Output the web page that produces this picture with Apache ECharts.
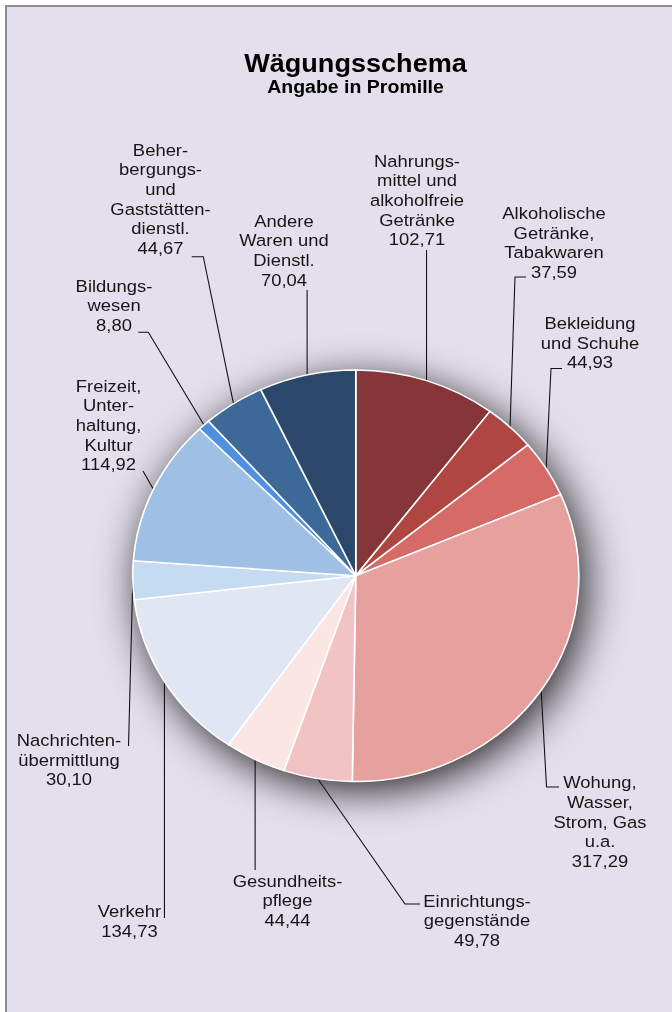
<!DOCTYPE html>
<html>
<head>
<meta charset="utf-8">
<script src="https://cdn.jsdelivr.net/npm/echarts@6/dist/echarts.min.js"></script>
<style>
  html, body { margin: 0; padding: 0; background: #fff; }
  body { width: 672px; height: 1012px; position: relative; overflow: hidden; }
  /* Rahmen mit grauer Kante links und oben */
  #frame {
    position: absolute; left: 5px; top: 5px; right: 0; bottom: 0;
    background: #e4dfec;
    border-left: 2px solid #8c8c8c;
    border-top: 2px solid #8c8c8c;
  }
  /* Vorlage ist horizontal gestreckt, daher scaleX */
  #chart {
    position: absolute; left: 0; top: 0;
    width: 620px; height: 1012px;
    transform: scaleX(1.083871);
    transform-origin: 0 0;
  }
</style>
</head>
<body>
<div id="frame"></div>
<div id="chart"></div>
<script>
  const categories = [
    'Nahrungs-\nmittel und\nalkoholfreie\nGetränke',
    'Alkoholische\nGetränke,\nTabakwaren',
    'Bekleidung\nund Schuhe',
    'Wohung,\nWasser,\nStrom, Gas\nu.a.',
    'Einrichtungs-\ngegenstände',
    'Gesundheits-\npflege',
    'Verkehr',
    'Nachrichten-\nübermittlung',
    'Freizeit,\nUnter-\nhaltung,\nKultur',
    'Bildungs-\nwesen',
    'Beher-\nbergungs-\nund\nGaststätten-\ndienstl.',
    'Andere\nWaren und\nDienstl.',
  ];
  const values = [102.71, 37.59, 44.93, 317.29, 49.78, 44.44, 134.73, 30.10, 114.92, 8.80, 44.67, 70.04];

  const sliceColors = [
    '#863538', '#b04642', '#d66a66', '#e6a09e', '#f2c3c3', '#fce6e4',
    '#e0e7f2', '#c5dbf2', '#9fbfe5', '#4f90e0', '#3d6999', '#2b486b',
  ];

  const SX = 672 / 620;          // horizontale Streckung
  const FONT = "'Liberation Sans', Arial, sans-serif";
  const LABEL_SIZE = 17;
  const LINE_H = 19.7;
  const BASE_OFFSET = LINE_H / 2 + 0.3465 * LABEL_SIZE;
  const CENTER = [355.8 / SX, 575.8];
  const RADIUS = 205.8;

  // Lage der Beschriftungen in Bildpixeln: Mitte, erste Grundlinie, Führungslinie
  const labelSpots = [
    { x: 417, base: 166.7, end: [null, 250] },
    { x: 554, base: 219, elbow: [515, 277], end: [526, 277] },
    { x: 590, base: 329, elbow: [551, 368.5], end: [562, 368.5] },
    { x: 600, base: 788.3, elbow: [546.5, 787], end: [559, 787] },
    { x: 477, base: 906.7, elbow: [405, 904], end: [420, 904] },
    { x: 287.5, base: 886.7, end: [null, 870] },
    { x: 129.5, base: 917.3, end: [null, 918] },
    { x: 69, base: 746, end: [128.5, 746] },
    { x: 108.5, base: 391.7, end: [143, 471] },
    { x: 114, base: 291.7, elbow: [148.3, 332.3], end: [138.3, 332.3] },
    { x: 160.5, base: 155.7, elbow: [203.3, 256.7], end: [191.7, 256.7] },
    { x: 284, base: 226.7, end: [null, 290] },
  ];

  const fmt = (v) => v.toFixed(2).replace('.', ',');
  const total = values.reduce((a, b) => a + b, 0);

  const chart = echarts.init(document.getElementById('chart'), null, { renderer: 'svg' });

  chart.setOption({
    animation: false,
    backgroundColor: 'transparent',
    title: {
      text: 'Wägungsschema',
      subtext: 'Angabe in Promille',
      left: 355.5 / SX,
      top: 51,
      padding: 0,
      itemGap: 2,
      textAlign: 'center',
      textStyle: { fontFamily: FONT, fontSize: 25, fontWeight: 'bold', color: '#000', lineHeight: 25 },
      subtextStyle: { fontFamily: FONT, fontSize: 18, fontWeight: 'bold', color: '#000', lineHeight: 18 },
    },
    series: [
      {
        // Schatten unter dem Kreis
        type: 'pie',
        silent: true,
        z: 1,
        center: CENTER,
        radius: RADIUS,
        data: [{ value: total }],
        label: { show: false },
        labelLine: { show: false },
        itemStyle: {
          color: '#b8b2c2',
          shadowBlur: 40,
          shadowColor: 'rgba(0, 0, 0, 0.85)',
          shadowOffsetX: 6,
          shadowOffsetY: 9,
        },
      },
      {
        type: 'pie',
        z: 2,
        center: CENTER,
        radius: RADIUS,
        startAngle: 90,
        clockwise: true,
        avoidLabelOverlap: false,
        emphasis: { disabled: true },
        data: categories.map((name, i) => ({
          name,
          value: values[i],
          itemStyle: { color: sliceColors[i] },
        })),
        itemStyle: { borderColor: '#ffffff', borderWidth: 1.5 },
        label: {
          show: true,
          position: 'outside',
          formatter: (p) => p.name + '\n' + fmt(p.value),
          fontFamily: FONT,
          fontSize: LABEL_SIZE,
          lineHeight: LINE_H,
          color: '#151515',
          align: 'center',
        },
        labelLine: {
          show: true,
          length: 10,
          length2: 8,
          smooth: false,
          lineStyle: { color: '#111', width: 1 },
        },
        labelLayout: (p) => {
          const s = labelSpots[p.dataIndex];
          const out = {
            x: s.x / SX,
            y: s.base - BASE_OFFSET,
            align: 'center',
            verticalAlign: 'top',
          };
          const pts = p.labelLinePoints;
          if (pts && pts.length) {
            const p0 = pts[0];
            const end = [s.end[0] == null ? p0[0] : s.end[0] / SX, s.end[1]];
            const elbow = s.elbow ? [s.elbow[0] / SX, s.elbow[1]] : end;
            out.labelLinePoints = [p0, elbow, end];
          }
          return out;
        },
      },
    ],
  });
</script>
</body>
</html>
